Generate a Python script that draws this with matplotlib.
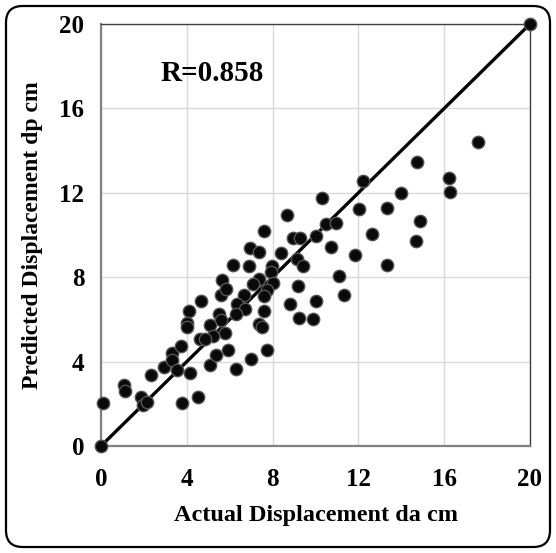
import matplotlib
matplotlib.use("Agg")
import matplotlib.pyplot as plt
from matplotlib.patches import FancyBboxPatch

actual = [0, 0.1, 1.07, 1.12, 1.85, 1.94, 2.13, 2.32, 2.95, 3.3, 3.33, 3.53, 3.73, 3.78,
          4.13, 4.53, 5.08, 5.35, 5.9, 5.63, 5.6, 5.83, 4.68, 4.08, 4.02, 4.02, 5.52, 5.58,
          5.1, 5.77, 5.2, 4.62, 4.85, 6.15, 7.6, 8.94, 9.3, 10.02, 6.95, 7.38, 8.39, 10.72,
          11.84, 6.9, 7.99, 9.12, 9.4, 7.91, 7.38, 7.07, 8.03, 7.72, 9.17, 11.1, 11.34, 6.67,
          7.61, 6.33, 6.71, 8.81, 10.02, 6.29, 7.6, 9.25, 9.87, 7.38, 7.49, 6.28, 6.99, 7.75,
          10.29, 8.69, 10.48, 10.96, 12.23, 12.04, 17.57, 14.72, 16.22, 16.27, 13.97, 13.35,
          14.87, 12.62, 14.69, 13.32, 20]
predicted = [0, 2.03, 2.9, 2.6, 2.33, 1.95, 2.1, 3.38, 3.76, 4.39, 4.07, 3.58, 4.72, 2.02,
             3.44, 2.3, 3.82, 4.29, 4.57, 7.88, 7.17, 7.45, 6.88, 6.38, 5.82, 5.62, 6.27, 5.99,
             5.75, 5.37, 5.23, 5.09, 5.06, 8.57, 10.2, 9.86, 9.86, 9.97, 9.4, 9.2, 9.16, 9.42,
             9.04, 8.52, 8.52, 8.84, 8.52, 8.24, 7.92, 7.7, 7.74, 7.39, 7.58, 8.08, 7.14, 7.15,
             7.1, 6.71, 6.51, 6.75, 6.87, 6.24, 6.4, 6.08, 6.0, 5.77, 5.64, 3.63, 4.1, 4.57,
             11.76, 10.94, 10.5, 10.55, 12.55, 11.21, 14.4, 13.44, 12.7, 12.04, 11.97, 11.29,
             10.66, 10.05, 9.7, 8.6, 20]
ticks = [0, 4, 8, 12, 16, 20]
line_x = [0, 20]
line_y = [0, 20]
r_text = "R=0.858"

plt.rcParams['font.family'] = ['Liberation Serif', 'DejaVu Serif']
plt.rcParams['font.weight'] = 'bold'

fig = plt.figure(figsize=(5.56, 5.53), dpi=100)
ax = fig.add_axes([101/556, 1-446/553, (530-101)/556, (446-24)/553])

ax.set_xlim(0, 20)
ax.set_ylim(0, 20)
ax.set_xticks(ticks)
ax.set_yticks(ticks)
ax.grid(True, color='#d9d9d9', linewidth=1.0, zorder=0)
ax.set_axisbelow(True)
ax.tick_params(axis='x', length=0, labelsize=18, pad=16)
ax.tick_params(axis='y', length=0, labelsize=18, pad=12)
for lab in ax.get_xticklabels() + ax.get_yticklabels():
    lab.set_fontweight('bold')

ax.plot(line_x, line_y, color='black', linewidth=2.4, zorder=2)
ax.scatter(actual, predicted, s=80, facecolor='#0a0a0a', edgecolor='#555555',
           linewidth=1.0, zorder=3, clip_on=False)

for side in ['left', 'bottom']:
    ax.spines[side].set_color('#808080')
    ax.spines[side].set_linewidth(1.6)
for side in ['top', 'right']:
    ax.spines[side].set_color('#404040')
    ax.spines[side].set_linewidth(1.0)

ax.set_xlabel('Actual Displacement da cm', fontsize=17.5, fontweight='bold', labelpad=10)
ax.set_ylabel('Predicted Displacement dp cm', fontsize=17, fontweight='bold', labelpad=12)
ax.text(2.8, 17.65, r_text, fontsize=21, fontweight='bold', ha='left', va='center')

frame = FancyBboxPatch((6/556, 6/553), 544/556, 541/553,
                       boxstyle="round,pad=0,rounding_size=0.03",
                       transform=fig.transFigure, fill=False,
                       edgecolor='black', linewidth=1.6)
fig.patches.append(frame)

fig.savefig('out.png', dpi=100)
